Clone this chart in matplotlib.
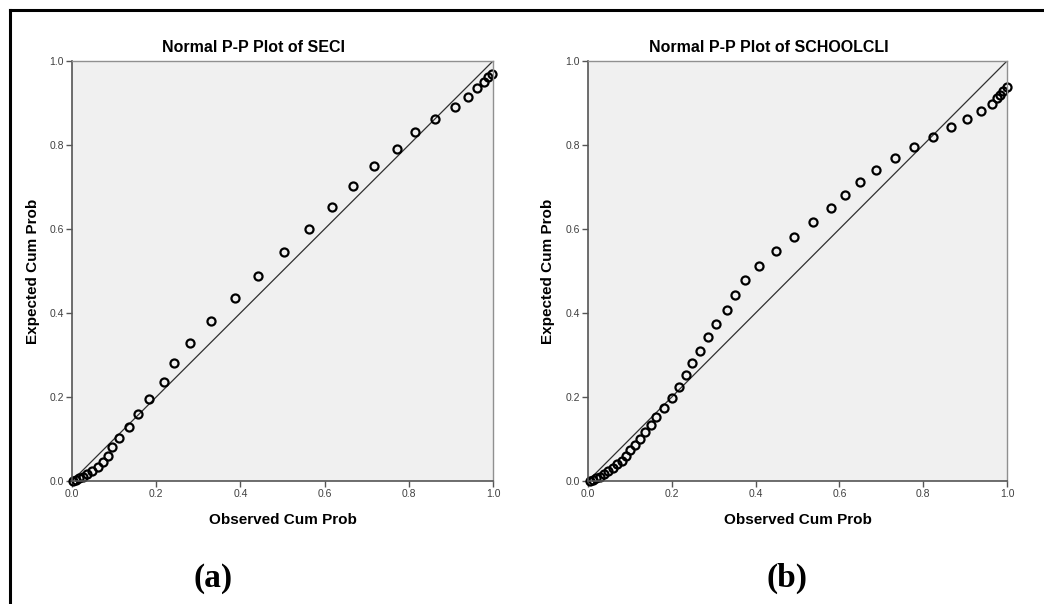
import matplotlib
matplotlib.use("Agg")
import matplotlib.pyplot as plt
from matplotlib.lines import Line2D

plt.rcParams['font.family'] = ['Liberation Sans', 'DejaVu Sans']

# P-P values: observed cum prob (x), expected cum prob (y)
seci_obs = [0.003, 0.010, 0.017, 0.025, 0.035, 0.048, 0.061, 0.073, 0.085,
            0.096, 0.112, 0.136, 0.156, 0.184, 0.219, 0.243, 0.280, 0.331,
            0.386, 0.442, 0.504, 0.562, 0.618, 0.667, 0.717, 0.773, 0.815,
            0.862, 0.910, 0.941, 0.962, 0.979, 0.989, 0.997]
seci_exp = [0.001, 0.003, 0.006, 0.010, 0.017, 0.025, 0.034, 0.046, 0.060,
            0.080, 0.102, 0.128, 0.159, 0.195, 0.236, 0.280, 0.329, 0.380,
            0.436, 0.489, 0.545, 0.599, 0.652, 0.702, 0.749, 0.791, 0.830,
            0.861, 0.890, 0.914, 0.935, 0.951, 0.963, 0.968]

school_obs = [0.005, 0.012, 0.020, 0.029, 0.039, 0.048, 0.060, 0.070, 0.080,
              0.091, 0.101, 0.112, 0.124, 0.137, 0.150, 0.163, 0.181, 0.200,
              0.216, 0.234, 0.249, 0.267, 0.287, 0.305, 0.331, 0.351, 0.374,
              0.408, 0.448, 0.492, 0.538, 0.579, 0.614, 0.649, 0.687, 0.732,
              0.777, 0.824, 0.866, 0.904, 0.937, 0.964, 0.977, 0.984, 0.991,
              0.999]
school_exp = [0.001, 0.003, 0.006, 0.010, 0.017, 0.024, 0.032, 0.040, 0.048,
              0.060, 0.073, 0.086, 0.101, 0.116, 0.134, 0.152, 0.175, 0.198,
              0.225, 0.252, 0.280, 0.310, 0.342, 0.375, 0.408, 0.443, 0.478,
              0.512, 0.548, 0.582, 0.616, 0.649, 0.682, 0.711, 0.740, 0.770,
              0.795, 0.818, 0.842, 0.862, 0.882, 0.898, 0.913, 0.919, 0.928,
              0.939]

ticks = [0.0, 0.2, 0.4, 0.6, 0.8, 1.0]
tick_labels = ["0.0", "0.2", "0.4", "0.6", "0.8", "1.0"]

panels = [
    ("Normal P-P Plot of SECI", seci_obs, seci_exp, "(a)", 72, 421, 254, 33, 213),
    ("Normal P-P Plot of SCHOOLCLI", school_obs, school_exp, "(b)", 588, 419, 769, 548, 787),
]

W, H = 1044, 604
fig = plt.figure(figsize=(W / 100, H / 100), dpi=100)
fig.patch.set_facecolor("white")

for title, obs, exp, tag, left, width, title_x, ylab_x, tag_x in panels:
    ax = fig.add_axes([left / W, (H - 481) / H, width / W, 420 / H])
    ax.set_facecolor("#f0f0f0")
    ax.plot([0, 1], [0, 1], color="#303030", lw=0.9)
    ax.plot(obs, exp, "o", mfc="none", mec="black", mew=1.6, ms=5.8, clip_on=False)
    ax.set_xlim(0, 1)
    ax.set_ylim(0, 1)
    ax.set_xticks(ticks)
    ax.set_xticklabels(tick_labels)
    ax.set_yticks(ticks)
    ax.set_yticklabels(tick_labels)
    ax.tick_params(direction="out", length=4, width=1, color="#555555",
                   labelsize=7.5, labelcolor="#404040", pad=2)
    for side in ["left", "bottom"]:
        ax.spines[side].set_color("#555555")
        ax.spines[side].set_linewidth(1.2)
    for side in ["top", "right"]:
        ax.spines[side].set_color("#909090")
        ax.spines[side].set_linewidth(1.0)

    fig.text(title_x / W, 1 - 48 / H, title, ha="center", va="center",
             fontsize=11.5, fontweight="bold")
    fig.text((left + width / 2) / W, 1 - 520 / H, "Observed Cum Prob",
             ha="center", va="center", fontsize=11, fontweight="bold")
    fig.text(ylab_x / W, 1 - 271 / H, "Expected Cum Prob", rotation=90,
             ha="center", va="center", fontsize=11, fontweight="bold")
    fig.text(tag_x / W, 1 - 578 / H, tag, ha="center", va="center",
             fontsize=24, fontweight="bold", family="Liberation Serif")

# open frame around the figure (top and left edges only)
fig.add_artist(Line2D([10 / W, 1.0], [1 - 10 / H, 1 - 10 / H], color="black", lw=2.2))
fig.add_artist(Line2D([10 / W, 10 / W], [0.0, 1 - 10 / H], color="black", lw=2.2))

fig.savefig("out.png", dpi=100)
